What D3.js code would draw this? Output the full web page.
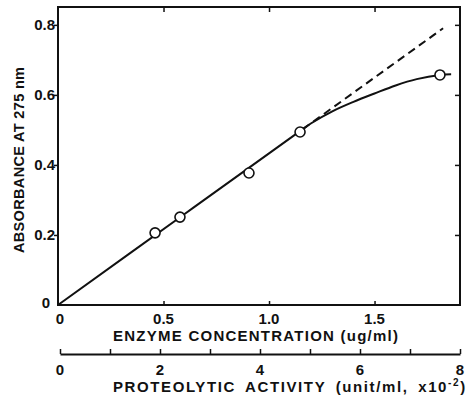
<!DOCTYPE html>
<html>
<head>
<meta charset="utf-8">
<script src="https://cdn.jsdelivr.net/npm/d3@7"></script>
<style>
  html, body { margin: 0; padding: 0; background: #fff; }
  svg { display: block; }
  text { font-family: "Liberation Sans", Arial, sans-serif; fill: #111; }
</style>
</head>
<body>
<svg id="chart" width="470" height="397"></svg>
<script>
// ---- data ----
const pointsX = [0.46, 0.578, 0.905, 1.147, 1.81];          // enzyme concentration (ug/ml)
const pointsY = [0.206, 0.251, 0.377, 0.494, 0.657];        // absorbance at 275 nm
const curveX = [0, 0.6, 1.0, 1.15, 1.2, 1.3, 1.4, 1.5, 1.6, 1.7, 1.81, 1.863];
const curveY = [0, 0.26, 0.433, 0.498, 0.519, 0.553, 0.58, 0.604, 0.627, 0.645, 0.657, 0.659];
const dashX = [1.16, 1.825];
const dashSlope = 0.433;                                    // linear extrapolation y = slope * x
const xTicks = [0, 0.5, 1.0, 1.5];
const xTickLabels = ["0", "0.5", "1.0", "1.5"];
const yTicks = [0, 0.2, 0.4, 0.6, 0.8];
const yTickLabels = ["0", "0.2", "0.4", "0.6", "0.8"];
const x2Ticks = [0, 1, 2, 3, 4, 5, 6, 7, 8];
const x2Labels = [0, 2, 4, 6, 8];

// ---- scales ----
const svg = d3.select("#chart");
const x = d3.scaleLinear().domain([0, 1.905]).range([58, 460]);
const y = d3.scaleLinear().domain([0, 0.851]).range([305, 7]);
const x2 = d3.scaleLinear().domain([0, 8]).range([60, 460]);

const ink = "#111";

// frame
svg.append("rect")
  .attr("x", x(0)).attr("y", y(0.851))
  .attr("width", x(1.905) - x(0)).attr("height", y(0) - y(0.851))
  .attr("fill", "none").attr("stroke", ink).attr("stroke-width", 2);

// left axis (outward ticks)
const yLeft = svg.append("g").attr("transform", `translate(${x(0)},0)`)
  .call(d3.axisLeft(y).tickValues(yTicks.filter(d => d > 0)).tickSize(4).tickFormat(""));
yLeft.select(".domain").remove();
yLeft.selectAll("line").attr("stroke", ink).attr("stroke-width", 1.5);

// right axis (inward ticks)
const yRight = svg.append("g").attr("transform", `translate(${x(1.905)},0)`)
  .call(d3.axisLeft(y).tickValues(yTicks.filter(d => d > 0)).tickSize(5).tickFormat(""));
yRight.select(".domain").remove();
yRight.selectAll("line").attr("stroke", ink).attr("stroke-width", 1.5);

// top axis (inward)
const xTop = svg.append("g").attr("transform", `translate(0,${y(0.851)})`)
  .call(d3.axisBottom(x).tickValues(xTicks.filter(d => d > 0)).tickSize(5).tickFormat(""));
xTop.select(".domain").remove();
xTop.selectAll("line").attr("stroke", ink).attr("stroke-width", 1.5);

// bottom axis (inward)
const xBot = svg.append("g").attr("transform", `translate(0,${y(0)})`)
  .call(d3.axisTop(x).tickValues(xTicks.filter(d => d > 0)).tickSize(4).tickFormat(""));
xBot.select(".domain").remove();
xBot.selectAll("line").attr("stroke", ink).attr("stroke-width", 1.5);

// y tick labels
svg.append("g").selectAll("text").data(yTicks).join("text")
  .attr("x", d => d === 0 ? 50 : 55)
  .attr("y", d => d === 0 ? y(d) - 2 : y(d))
  .attr("dy", "0.36em")
  .attr("text-anchor", "end")
  .attr("font-size", 15).attr("font-weight", "bold")
  .text((d, i) => yTickLabels[i]);

// x tick labels
svg.append("g").selectAll("text").data(xTicks).join("text")
  .attr("x", d => d === 0 ? x(d) + 2 : x(d))
  .attr("y", 324)
  .attr("text-anchor", "middle")
  .attr("font-size", 15).attr("font-weight", "bold")
  .text((d, i) => xTickLabels[i]);

// x title
svg.append("text")
  .attr("x", 113).attr("y", 341)
  .attr("font-size", 15).attr("font-weight", "bold")
  .attr("textLength", 285).attr("lengthAdjust", "spacing")
  .text("ENZYME CONCENTRATION (ug/ml)");

// y title
svg.append("text")
  .attr("transform", "translate(24,160) rotate(-90)")
  .attr("text-anchor", "middle")
  .attr("font-size", 14.5).attr("font-weight", "bold")
  .attr("textLength", 186).attr("lengthAdjust", "spacing")
  .text("ABSORBANCE AT 275 nm");

// secondary axis
const ax2 = svg.append("g").attr("transform", "translate(0,354)")
  .call(d3.axisTop(x2).tickValues(x2Ticks).tickSize(5).tickFormat("").tickSizeOuter(0));
ax2.select(".domain").attr("stroke", ink).attr("stroke-width", 2);
ax2.selectAll("line").attr("stroke", ink).attr("stroke-width", 1.5);

svg.append("g").selectAll("text").data(x2Labels).join("text")
  .attr("x", d => x2(d)).attr("y", 375)
  .attr("text-anchor", "middle")
  .attr("font-size", 15).attr("font-weight", "bold")
  .text(d => d);

const t2 = svg.append("text")
  .attr("x", 113).attr("y", 392)
  .attr("font-size", 15).attr("font-weight", "bold")
  .attr("letter-spacing", 1.6)
  .attr("word-spacing", 4);
t2.append("tspan").text("PROTEOLYTIC ACTIVITY (unit/ml, x10");
t2.append("tspan").attr("dy", -6).attr("font-size", 10).text("-2");
t2.append("tspan").attr("dy", 6).text(")");

// dashed extrapolation
svg.append("path")
  .datum(dashX)
  .attr("d", d3.line().x(d => x(d)).y(d => y(dashSlope * d)))
  .attr("fill", "none").attr("stroke", ink).attr("stroke-width", 2)
  .attr("stroke-dasharray", "8,5");

// solid curve
const curvePts = curveX.map((d, i) => [d, curveY[i]]);
svg.append("path")
  .datum(curvePts)
  .attr("d", d3.line().x(d => x(d[0])).y(d => y(d[1])).curve(d3.curveCatmullRom.alpha(0.5)))
  .attr("fill", "none").attr("stroke", ink).attr("stroke-width", 2);

// points
svg.append("g").selectAll("circle").data(pointsX).join("circle")
  .attr("cx", d => x(d)).attr("cy", (d, i) => y(pointsY[i]))
  .attr("r", 5)
  .attr("fill", "#fff").attr("stroke", ink).attr("stroke-width", 1.6);
</script>
</body>
</html>
